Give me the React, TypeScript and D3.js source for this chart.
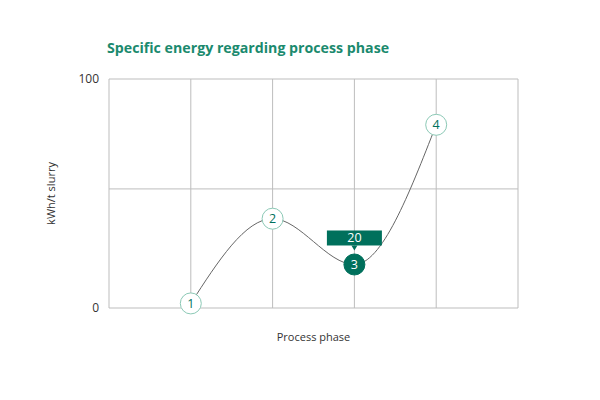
import React from "react";
import * as d3 from "d3";

const phases = [0, 1, 2, 3, 4, 5];
const pointPhases = [1, 2, 3, 4];
const pointValues = [2, 39, 19, 80];
const pointLabels = ["1", "2", "3", "4"];
const tooltipValue = "20";
const yTicks = [0, 100];
const hGrid = [52];
const highlighted = 2;
const title = "Specific energy regarding process phase";
const yLabel = "kWh/t slurry";
const xLabel = "Process phase";

const W = 600, H = 400;
const m = { left: 109, right: 82, top: 79, bottom: 92 };
const teal = "#00705c";
const lightTeal = "#8cc9b6";
const titleColor = "#1b8a6e";
const grid = "#bdbdbd";

export default function App() {
  const x = d3.scaleLinear().domain([0, 5]).range([m.left, W - m.right]);
  const y = d3.scaleLinear().domain([0, 100]).range([H - m.bottom, m.top]);
  const pts: [number, number][] = pointPhases.map((p, i) => [x(p), y(pointValues[i])]);
  const line = d3.line().curve(d3.curveMonotoneX)(pts) || "";
  const r = 10.5;
  const hx = pts[highlighted][0], hy = pts[highlighted][1];
  return (
    <svg width={W} height={H} style={{ position: "absolute", left: 0, top: 0, fontFamily: "'Open Sans', sans-serif" }}>
      <rect width={W} height={H} fill="#fff" />
      <text x={107} y={53} fontSize={14.2} fontWeight={700} fill={titleColor}>{title}</text>
      {phases.map((p) => (
        <line key={"v" + p} x1={x(p)} x2={x(p)} y1={y(0)} y2={y(100)} stroke={grid} strokeWidth={1} />
      ))}
      {[...yTicks, ...hGrid].map((v) => (
        <line key={"h" + v} x1={x(0)} x2={x(5)} y1={y(v)} y2={y(v)} stroke={grid} strokeWidth={1} />
      ))}
      {yTicks.map((v) => (
        <text key={"t" + v} x={x(0) - 10} y={y(v) + 4} fontSize={12} textAnchor="end" fill="#333">{v}</text>
      ))}
      <text transform={`translate(55,${(y(0) + y(100)) / 2}) rotate(-90)`} fontSize={11} textAnchor="middle" fill="#333">{yLabel}</text>
      <text x={(x(0) + x(5)) / 2} y={341} fontSize={11} textAnchor="middle" fill="#333">{xLabel}</text>
      <path d={line} fill="none" stroke="#666" strokeWidth={1} />
      {pts.map(([px, py], i) => (
        <g key={"p" + i}>
          <circle cx={px} cy={py} r={r} fill={i === highlighted ? teal : "#fff"} stroke={i === highlighted ? teal : lightTeal} strokeWidth={1} />
          <text x={px} y={py + 4.5} fontSize={12.5} textAnchor="middle" fill={i === highlighted ? "#fff" : teal}>{pointLabels[i]}</text>
        </g>
      ))}
      <g>
        <rect x={hx - 27.5} y={hy - 34} width={55} height={15} fill={teal} />
        <path d={`M${hx - 3},${hy - 19} L${hx + 3},${hy - 19} L${hx},${hy - 14} Z`} fill={teal} />
        <text x={hx} y={hy - 22} fontSize={12.5} textAnchor="middle" fill="#fff">{tooltipValue}</text>
      </g>
    </svg>
  );
}
